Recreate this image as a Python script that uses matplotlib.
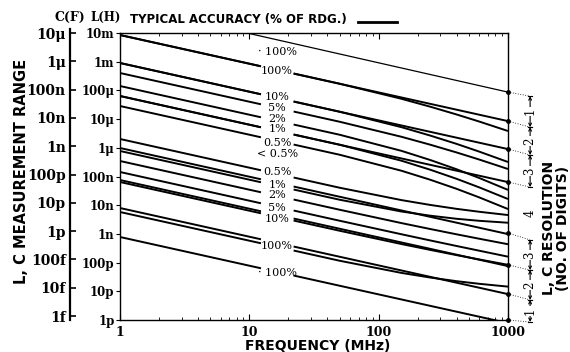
#!/usr/bin/env python

import matplotlib
matplotlib.use('Agg')
import matplotlib.pyplot as plt
import numpy as np

curve_f = [1, 50, 150, 250, 400, 600, 1000]

# accuracy curves, log10(L [H]) at curve_f (upper group bends down at high f,
# lower group flattens)
acc_upper_100 = [-2.070, -3.769, -4.292, -4.567, -4.838, -5.086, -5.415]
acc_upper_10 = [-3.045, -4.744, -5.281, -5.573, -5.863, -6.134, -6.495]
acc_upper_5 = [-3.394, -5.093, -5.616, -5.891, -6.162, -6.410, -6.739]
acc_upper_2 = [-3.847, -5.546, -6.106, -6.424, -6.747, -7.053, -7.467]
acc_upper_1 = [-4.195, -5.894, -6.450, -6.763, -7.080, -7.380, -7.785]
acc_upper_05 = [-4.544, -6.243, -6.799, -7.112, -7.429, -7.729, -8.134]
acc_lower_05 = [-5.693, -7.392, -7.822, -7.990, -8.127, -8.229, -8.343]
acc_lower_1 = [-6.111, -7.810, -8.220, -8.365, -8.473, -8.544, -8.611]
acc_lower_2 = [-6.460, -8.159, -8.623, -8.829, -9.014, -9.169, -9.360]
acc_lower_5 = [-6.843, -8.542, -9.012, -9.227, -9.421, -9.586, -9.793]
acc_lower_10 = [-7.192, -8.891, -9.353, -9.557, -9.739, -9.891, -10.077]
acc_lower_100 = [-8.237, -9.936, -10.359, -10.520, -10.647, -10.739, -10.837]

# constant-|Z| range boundaries: log10(L) at 1 MHz and 1000 MHz
range_f = [1, 1000]
range_lines = [[-2.070, -5.070], [-3.045, -6.045], [-4.195, -7.195], [-6.007, -9.007],
               [-7.122, -10.122], [-8.098, -11.098], [-9.108, -12.108]]

# thin upper limit line (starts on the top frame)
limit_f = [9.6, 1000]
limit_logL = [-2.0, -4.06]

# accuracy labels (text, log10 L at label centre)
acc_labels = ['\u00b7 100%', '100%', '10%', '5%', '2%', '1%', '0.5%', '< 0.5%', '0.5%',
              '1%', '2%', '5%', '10%', '100%', '\u00b7 100%']
acc_label_logL = [-2.66, -3.32, -4.22, -4.60, -5.01, -5.36, -5.82, -6.22, -6.83,
                  -7.29, -7.64, -8.09, -8.48, -9.42, -10.36]
label_f = 16.4

# axis ticks
L_ticks = [1e-2, 1e-3, 1e-4, 1e-5, 1e-6, 1e-7, 1e-8, 1e-9, 1e-10, 1e-11, 1e-12]
L_tick_labels = ['10m', '1m', '100\u03bc', '10\u03bc', '1\u03bc', '100n', '10n', '1n', '100p', '10p', '1p']
C_ticks = [1e-5, 1e-6, 1e-7, 1e-8, 1e-9, 1e-10, 1e-11, 1e-12, 1e-13, 1e-14, 1e-15]
C_tick_labels = ['10\u03bc', '1\u03bc', '100n', '10n', '1n', '100p', '10p', '1p', '100f', '10f', '1f']
f_ticks = [1, 10, 100, 1000]
f_tick_labels = ['1', '10', '100', '1000']

# resolution scale: log10 L where guide lines leave the frame / meet the scale
res_from_logL = [-4.06, -5.07, -6.04, -7.19, -8.97, -10.08, -11.09, -12.0]
res_to_logL = [-4.20, -5.28, -6.25, -7.37, -9.21, -10.26, -11.30, -12.07]
res_digits = ['1', '2', '3', '4', '3', '2', '1']

serif = 'DejaVu Serif'
sans = 'DejaVu Sans'


def broken_line(ax, f, logL, gap=(12.3, 22.0), lw=1.6):
	# draw a curve with a break where its label sits
	f = np.asarray(f, dtype=float)
	y = np.asarray(logL, dtype=float)
	lf = np.log10(f)
	g0, g1 = np.log10(gap[0]), np.log10(gap[1])
	y0 = np.interp(g0, lf, y)
	y1 = np.interp(g1, lf, y)
	left = lf < g0
	right = lf > g1
	xl = np.concatenate([lf[left], [g0]])
	yl = np.concatenate([y[left], [y0]])
	xr = np.concatenate([[g1], lf[right]])
	yr = np.concatenate([[y1], y[right]])
	for xx, yy in [(xl, yl), (xr, yr)]:
		ax.plot(10 ** xx, 10 ** yy, color='black', lw=lw, solid_capstyle='butt',
				solid_joinstyle='round')


def main():
	fig = plt.figure(figsize=(5.7, 3.52), dpi=100)
	ax = fig.add_axes([120 / 570, 32 / 352, 388 / 570, 287 / 352])
	ax.set_xscale('log')
	ax.set_yscale('log')
	ax.set_xlim(1, 1000)
	ax.set_ylim(1e-12, 1e-2)

	curves = [acc_upper_100, acc_upper_10, acc_upper_5, acc_upper_2, acc_upper_1,
			  acc_upper_05, acc_lower_05, acc_lower_1, acc_lower_2, acc_lower_5,
			  acc_lower_10, acc_lower_100]
	for c in curves:
		broken_line(ax, curve_f, c, lw=1.4)
	for r in range_lines:
		broken_line(ax, range_f, r, lw=1.4)

	ax.plot(limit_f, [10 ** v for v in limit_logL], color='black', lw=0.9)

	for t, v in zip(acc_labels, acc_label_logL):
		ax.text(label_f, 10 ** v, t, ha='center', va='center', fontsize=8,
				family=serif)

	ax.set_xticks(f_ticks)
	ax.set_xticklabels(f_tick_labels, family=serif, fontweight='bold', fontsize=9)
	ax.set_yticks(L_ticks)
	ax.set_yticklabels(L_tick_labels, family=serif, fontweight='bold', fontsize=8.5)
	ax.tick_params(axis='y', which='major', length=3, direction='out', pad=1)
	ax.tick_params(axis='y', which='minor', length=0)
	ax.tick_params(axis='x', which='major', length=4, direction='in', top=True, pad=4)
	ax.tick_params(axis='x', which='minor', length=2, direction='in', top=True)
	for s in ax.spines.values():
		s.set_linewidth(1.0)

	# C scale on a separate spine further left
	cax = fig.add_axes(ax.get_position())
	cax.patch.set_visible(False)
	cax.set_yscale('log')
	cax.set_ylim(10 ** -15.14, 1e-5)
	cax.set_xticks([])
	for side in ['top', 'right', 'bottom']:
		cax.spines[side].set_visible(False)
	cax.spines['left'].set_position(('axes', -50 / 388))
	cax.spines['left'].set_linewidth(1.6)
	cax.spines['left'].set_bounds(10 ** -15.14, 10 ** -4.85)
	cax.set_yticks(C_ticks)
	cax.set_yticklabels(C_tick_labels, family=serif, fontweight='bold', fontsize=10)
	cax.tick_params(axis='y', which='major', direction='in', length=4, width=1.2, pad=3)
	cax.tick_params(axis='y', which='minor', length=0)

	# resolution guides and scale
	xs = 1.057
	tr = ax.get_yaxis_transform()
	for a, b in zip(res_from_logL, res_to_logL):
		ax.plot([1.0, xs], [10 ** a, 10 ** b], transform=tr,
				color='black', lw=0.6, ls=(0, (1, 2)), clip_on=False)
		ax.plot([1.0], [10 ** a], 'o', ms=2.5, color='black', transform=tr, clip_on=False)
	for i, d in enumerate(res_digits):
		y0 = 10 ** res_to_logL[i]
		y1 = 10 ** res_to_logL[i + 1]
		ym = 10 ** ((res_to_logL[i] + res_to_logL[i + 1]) / 2)
		if d != '4':
			ax.annotate('', xy=(xs, y0), xytext=(xs, y1), xycoords=tr, textcoords=tr,
						arrowprops=dict(arrowstyle='<->', lw=0.8, mutation_scale=5,
										shrinkA=0, shrinkB=0))
			for yy in (y0, y1):
				ax.plot([xs - 0.006, xs + 0.006], [yy, yy], transform=tr, color='black',
						lw=0.8, clip_on=False)
		ax.text(xs, ym, d, transform=tr, rotation=90,
				ha='center', va='center', fontsize=8.5, family=serif,
				bbox=dict(facecolor='white', edgecolor='none', pad=0.8))

	# titles
	fig.text(70 / 570, 1 - 17 / 352, 'C(F)', ha='center', va='center', family=serif,
			 fontweight='bold', fontsize=9)
	fig.text(106 / 570, 1 - 17 / 352, 'L(H)', ha='center', va='center', family=serif,
			 fontweight='bold', fontsize=8.5)
	fig.text(238 / 570, 1 - 20 / 352, 'TYPICAL ACCURACY (% OF RDG.)', ha='center',
			 va='center', family=sans, fontweight='bold', fontsize=8.5)
	fig.add_artist(plt.Line2D([358 / 570, 397 / 570], [1 - 22 / 352, 1 - 22 / 352],
							  color='black', lw=2))
	fig.text(22 / 570, 1 - 171 / 352, 'L, C MEASUREMENT RANGE', rotation=90, ha='center',
			 va='center', family=sans, fontweight='bold', fontsize=10.5)
	fig.text(318 / 570, 1 - 345.5 / 352, 'FREQUENCY (MHz)', ha='center', va='center',
			 family=sans, fontweight='bold', fontsize=10)
	fig.text(556 / 570, 1 - 228 / 352, 'L, C RESOLUTION\n(NO. OF DIGITS)', rotation=90,
			 ha='center', va='center', family=sans, fontweight='bold', fontsize=10,
			 linespacing=1.0)

	fig.savefig('out.png', dpi=100)


if __name__ == "__main__":
	main()
